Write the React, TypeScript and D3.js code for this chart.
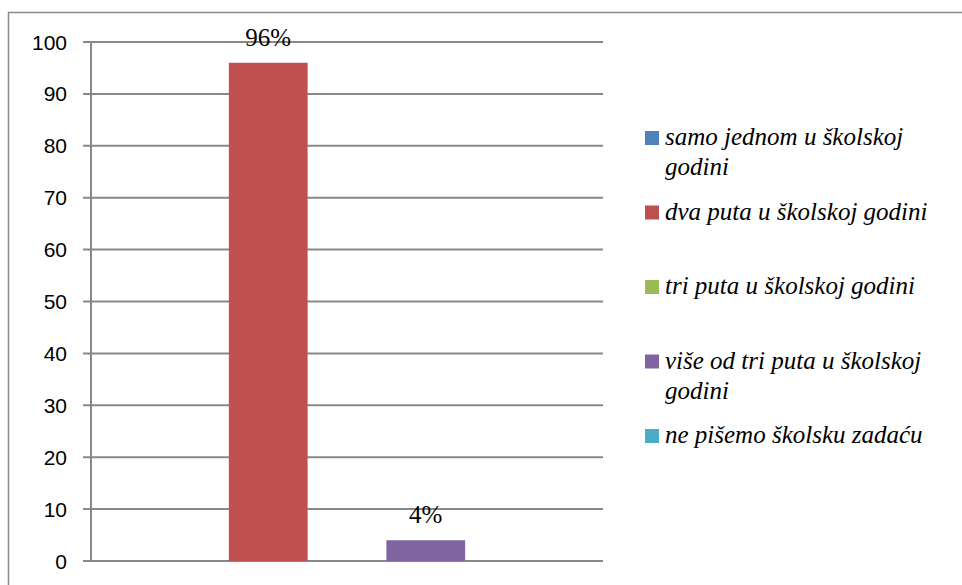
import React, { useEffect, useRef } from 'react';
import * as d3 from 'd3';

// podaci
const categories = ['učestalost'];
const seriesNames = [
  'samo jednom u školskoj godini',
  'dva puta u školskoj godini',
  'tri puta u školskoj godini',
  'više od tri puta u školskoj godini',
  'ne pišemo školsku zadaću',
];
const seriesValues = [0, 96, 0, 4, 0];
const seriesColors = ['#4F81BD', '#C0504D', '#9BBB59', '#8064A2', '#4BACC6'];
const yTicks = [0, 10, 20, 30, 40, 50, 60, 70, 80, 90, 100];

const W = 962;
const H = 585;
const plot = { left: 91, right: 603, top: 42, bottom: 561 };
const SERIF = '"Liberation Serif", "Times New Roman", serif';

export default function App() {
  const svgRef = useRef<SVGSVGElement>(null);
  const y = d3.scaleLinear().domain([0, 100]).range([plot.bottom, plot.top]);
  const x0 = d3.scaleBand<string>().domain(categories).range([plot.left, plot.right]).paddingInner(0).paddingOuter(0.15);
  const x1 = d3.scaleBand<string>().domain(seriesNames).range([0, x0.bandwidth()]);
  const bars = seriesNames.map((name, i) => ({ name, value: seriesValues[i], color: seriesColors[i] }));

  // prelamanje teksta legende
  useEffect(() => {
    const svg = d3.select(svgRef.current);
    svg.selectAll<SVGTextElement, unknown>('text.legend-label').each(function () {
      const text = d3.select(this);
      const words = (text.attr('data-label') || '').split(' ');
      text.text(null);
      let line: string[] = [];
      let tspan = text.append('tspan').attr('x', 20).attr('dy', 0);
      words.forEach((w) => {
        line.push(w);
        tspan.text(line.join(' '));
        if ((tspan.node() as SVGTSpanElement).getComputedTextLength() > 290 && line.length > 1) {
          line.pop();
          tspan.text(line.join(' '));
          line = [w];
          tspan = text.append('tspan').attr('x', 20).attr('dy', 30).text(w);
        }
      });
    });
  }, []);

  return (
    <div style={{ position: 'absolute', left: 0, top: 0, width: W, height: H, overflow: 'hidden', background: '#fff' }}>
      <svg ref={svgRef} width={W} height={H}>
        {/* okvir */}
        <rect x={8.5} y={12.5} width={W + 20} height={H + 20} fill="none" stroke="#898989" strokeWidth={1.5} />

        {/* mreža */}
        {yTicks.map((t) => (
          <line key={t} x1={plot.left - 8} x2={plot.right} y1={y(t)} y2={y(t)} stroke="#888" strokeWidth={2} />
        ))}
        <line x1={plot.left} x2={plot.left} y1={plot.top} y2={plot.bottom} stroke="#888" strokeWidth={2} />
        {yTicks.map((t) => (
          <text
            key={t}
            x={67}
            y={y(t)}
            dy="0.36em"
            textAnchor="end"
            style={{ fontFamily: '"Liberation Sans", sans-serif', fontSize: 21 }}
            fill="#000">
            {t}
          </text>
        ))}

        {/* stupci */}
        <g transform={`translate(${x0(categories[0])},0)`}>
          {bars.map((d) => (
            <rect key={d.name} x={x1(d.name)} width={x1.bandwidth()} y={y(d.value)} height={plot.bottom - y(d.value)} fill={d.color} />
          ))}
          {bars
            .filter((d) => d.value > 0)
            .map((d) => (
              <text
                key={d.name}
                x={x1(d.name)! + x1.bandwidth() / 2}
                y={y(d.value) - 17}
                textAnchor="middle"
                style={{ fontFamily: SERIF, fontSize: 25 }}
                fill="#000">
                {`${d.value}%`}
              </text>
            ))}
        </g>

        {/* legenda */}
        {bars.map((d, i) => (
          <g key={d.name} transform={`translate(645,${131 + i * 74.5})`}>
            <rect width={14} height={14} fill={d.color} />
            <text
              className="legend-label"
              data-label={d.name}
              x={20}
              y={14}
              style={{ fontFamily: SERIF, fontStyle: 'italic', fontSize: 25 }}
              fill="#000">
              {d.name}
            </text>
          </g>
        ))}
      </svg>
    </div>
  );
}
